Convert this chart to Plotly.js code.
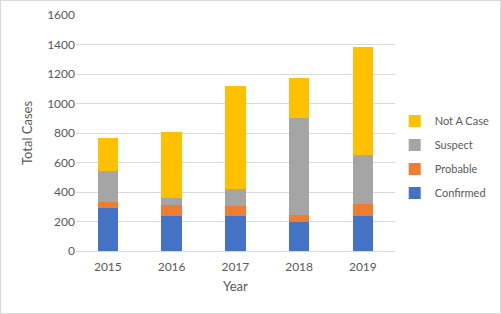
<!DOCTYPE html>
<html>
<head>
<meta charset="utf-8">
<script src="https://cdn.plot.ly/plotly-3.0.1.min.js"></script>
<style>
  html, body { margin: 0; padding: 0; background: #fff; }
  #chart { width: 501px; height: 314px; box-sizing: border-box; border: 1px solid #d9d9d9; }
</style>
</head>
<body>
<div id="chart"></div>
<script>
// данные
const years = ['2015', '2016', '2017', '2018', '2019'];
const confirmed = [290, 236, 240, 200, 234];
const probable  = [40, 79, 62, 45, 83];
const suspect   = [210, 41, 120, 658, 332];
const notACase  = [225, 452, 700, 268, 731];

const series = [
    { name: 'Confirmed',  values: confirmed, color: '#4472C4', rank: 4 },
    { name: 'Probable',   values: probable,  color: '#ED7D31', rank: 3 },
    { name: 'Suspect',    values: suspect,   color: '#A5A5A5', rank: 2 },
    { name: 'Not A Case', values: notACase,  color: '#FFC000', rank: 1 }
];

const textColor = '#595959';
const font = { family: 'Lato, "Liberation Sans", sans-serif', size: 12, color: textColor };

const traces = series.map(s => ({
    type: 'bar',
    name: s.name,
    legendgroup: s.name,
    legendrank: s.rank,
    x: years,
    y: s.values,
    marker: { color: s.color, line: { width: 0 } },
    hoverinfo: 'x+y+name'
}));

Plotly.newPlot('chart', traces, {
    width: 499,
    height: 312,
    barmode: 'stack',
    bargap: 0.68,
    font: font,
    paper_bgcolor: '#ffffff',
    plot_bgcolor: '#ffffff',
    margin: { t: 14, l: 75, r: 100, b: 62 },
    xaxis: {
        type: 'category',
        title: { text: 'Year', font: { size: 13, color: textColor }, standoff: 8 },
        showgrid: false,
        showline: true,
        linecolor: '#d9d9d9',
        ticks: '',
        ticklabelstandoff: 5,
        tickfont: font
    },
    yaxis: {
        title: { text: 'Total Cases', font: { size: 13, color: textColor }, standoff: 11 },
        range: [0, 1600],
        dtick: 200,
        gridcolor: '#d9d9d9',
        gridwidth: 1,
        zeroline: false,
        showline: false,
        ticks: '',
        tickfont: font
    },
    // легенда справа, привязана к контейнеру, чтобы не сжимать область графика
    legend: {
        xref: 'container',
        yref: 'container',
        x: 0.789,
        xanchor: 'left',
        y: 0.5,
        yanchor: 'middle',
        traceorder: 'grouped',
        tracegroupgap: 5,
        font: { family: font.family, size: 11, color: textColor },
        itemwidth: 30
    },
    showlegend: true
}, { displayModeBar: false, staticPlot: true });
</script>
</body>
</html>
